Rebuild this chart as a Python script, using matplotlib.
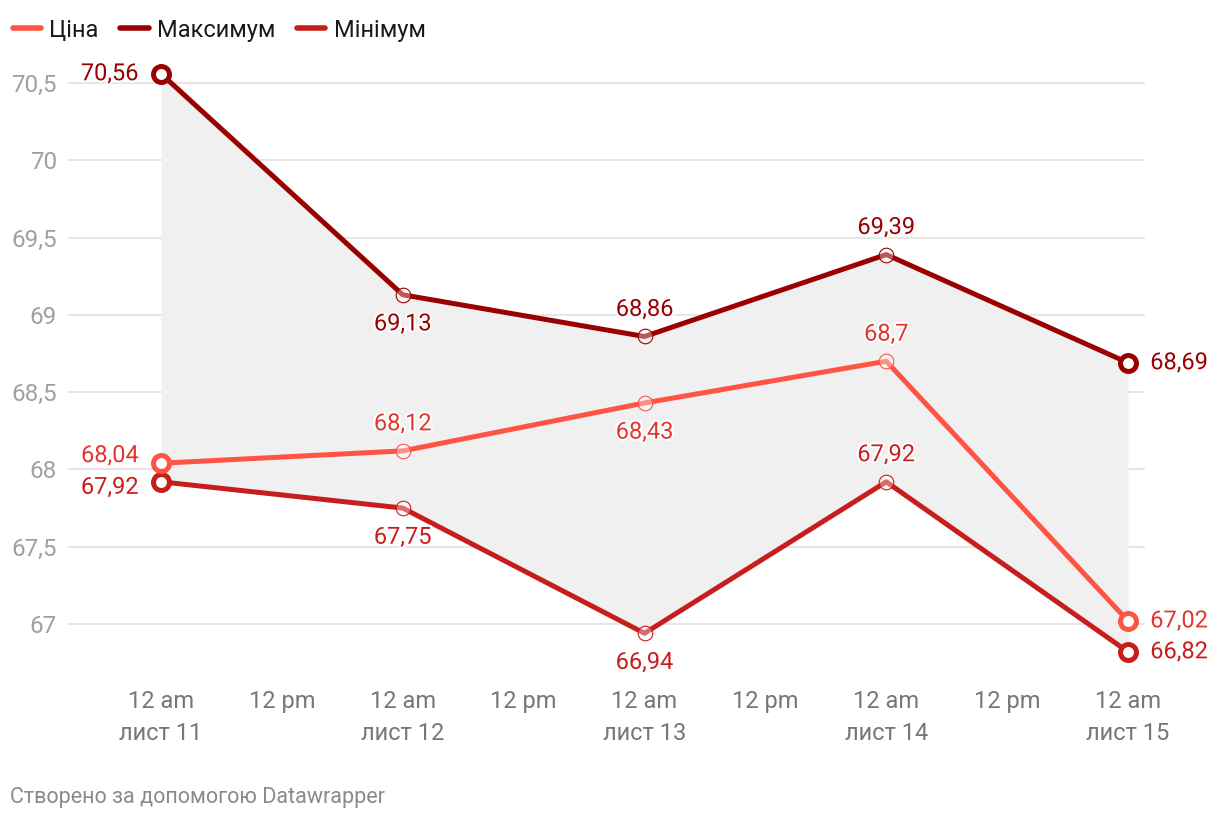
import matplotlib
matplotlib.use("Agg")
import matplotlib.pyplot as plt
import matplotlib.patheffects as pe
from matplotlib.lines import Line2D

plt.rcParams['font.family'] = ['Roboto', 'DejaVu Sans']

# ---- data ----
days = [0, 1, 2, 3, 4]  # лист 11 .. лист 15 (12 am)
price = [68.04, 68.12, 68.43, 68.70, 67.02]
maxv = [70.56, 69.13, 68.86, 69.39, 68.69]
minv = [67.92, 67.75, 66.94, 67.92, 66.82]
price_lbl = ["68,04", "68,12", "68,43", "68,7", "67,02"]
max_lbl = ["70,56", "69,13", "68,86", "69,39", "68,69"]
min_lbl = ["67,92", "67,75", "66,94", "67,92", "66,82"]
series_names = ["Ціна", "Максимум", "Мінімум"]
xtick_pos = [0, 0.5, 1, 1.5, 2, 2.5, 3, 3.5, 4]
xtick_labels = ["12 am\nлист 11", "12 pm", "12 am\nлист 12", "12 pm",
                "12 am\nлист 13", "12 pm", "12 am\nлист 14", "12 pm",
                "12 am\nлист 15"]
yticks = [67, 67.5, 68, 68.5, 69, 69.5, 70, 70.5]
ytick_labels = ["67", "67,5", "68", "68,5", "69", "69,5", "70", "70,5"]
footer = "Створено за допомогою Datawrapper"

# label placement per point: 'l','r','a','b'
price_pos = ['l', 'a', 'b', 'a', 'r']
max_pos = ['l', 'b', 'a', 'a', 'r']
min_pos = ['l', 'b', 'b', 'a', 'r']
# small vertical nudges (points) to avoid collisions of side labels
price_nudge = [5.5, 0, 0, 0, 0]
max_nudge = [0, 0, 0, 0, 0]
min_nudge = [-4, 0, 0, 0, 0]

c_price = '#ff5443'
c_max = '#9a0000'
c_min = '#c71e1d'
c_price_lbl = '#e0362c'

W, H = 1220, 822
fig = plt.figure(figsize=(W / 100, H / 100), dpi=100)
left, right, top, bottom = 68, 1145, 55, 680
ax = fig.add_axes([left / W, 1 - bottom / H, (right - left) / W, (bottom - top) / H])

# x limits from pixel mapping: day0 at 161, day4 at 1128
ppd = (1128 - 161) / 4
ax.set_xlim((left - 161) / ppd, (right - 161) / ppd)
ppu = (624 - 83) / 3.5
ax.set_ylim(70.5 - (bottom - 83) / ppu, 70.5 + (83 - top) / ppu)

for s in ax.spines.values():
    s.set_visible(False)
ax.set_yticks(yticks)
ax.set_yticklabels(ytick_labels)
ax.tick_params(axis='y', length=0, pad=8, labelsize=17.5, labelcolor='#a0a0a0')
for t in ax.get_yticklabels():
    t.set_ha('right')
ax.set_xticks(xtick_pos)
ax.set_xticklabels(xtick_labels, linespacing=1.5)
ax.tick_params(axis='x', length=0, pad=7, labelsize=17, labelcolor='#777777')
ax.grid(axis='y', color='#e2e2e2', linewidth=1.2, zorder=0)
ax.set_axisbelow(True)

ax.fill_between(days, minv, maxv, color='#f0f0f0', zorder=1, linewidth=0)

halo = [pe.withStroke(linewidth=3, foreground='white')]

def draw(vals, color, lblcolor, labels, poss, nudges):
    ax.plot(days, vals, color=color, lw=3.6, solid_capstyle='round',
            solid_joinstyle='round', zorder=3)
    mid = days[1:-1]
    ax.plot(mid, vals[1:-1], ls='none', marker='o', ms=10.5, mew=0.8,
            mec=color, mfc=(1, 1, 1, 0.35), zorder=4)
    ax.plot([days[0], days[-1]], [vals[0], vals[-1]], ls='none', marker='o',
            ms=11.5, mew=3.6, mec=color, mfc='white', zorder=5)
    for d, v, lab, p, n in zip(days, vals, labels, poss, nudges):
        if p == 'l':
            off, ha = (-16, n), 'right'
        elif p == 'r':
            off, ha = (16, n), 'left'
        elif p == 'a':
            off, ha = (0, 19.5 + n), 'center'
        else:
            off, ha = (0, -21 + n), 'center'
        ax.annotate(lab, xy=(d, v), xytext=off, textcoords='offset points',
                    ha=ha, va='center', fontsize=17, color=lblcolor,
                    path_effects=halo, zorder=6)

draw(maxv, c_max, c_max, max_lbl, max_pos, max_nudge)
draw(minv, c_min, c_min, min_lbl, min_pos, min_nudge)
draw(price, c_price, c_price_lbl, price_lbl, price_pos, price_nudge)

handles = [Line2D([], [], color=c, lw=4, solid_capstyle='round')
           for c in (c_price, c_max, c_min)]
fig.legend(handles, series_names, loc='upper left', ncol=3,
           bbox_to_anchor=(-4 / W, 1.0 - 2 / H), frameon=False, fontsize=17,
           handlelength=1.2, handletextpad=0.35, columnspacing=0.92,
           borderaxespad=0.3, labelcolor='#1a1a1a')

fig.text(10 / W, 1 - 797 / H, footer, fontsize=15.5, color='#8a8a8a',
         ha='left', va='center')

fig.savefig('out.png', dpi=100)
